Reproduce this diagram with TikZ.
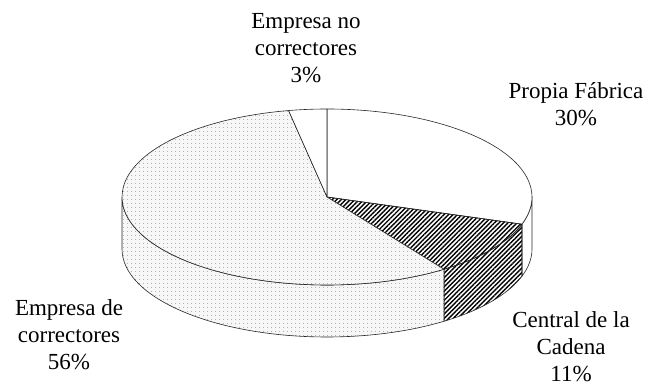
\documentclass[tikz,border=0pt]{standalone}
\usepackage{fontspec}
\setmainfont{Liberation Serif}
\usetikzlibrary{calc,patterns.meta}
\tikzset{
  basic/.style   = {draw=black!85, line width=0.6pt, line join=round},
  plain/.style   = {basic, fill=white},
  hatch/.style   = {basic, fill=white, pattern color=black,
                    pattern={Lines[angle=45,distance=3.2pt,line width=1.4pt]}},
  stipple/.style = {basic, preaction={fill=gray!6}, pattern color=gray!80,
                    pattern={Dots[distance=4pt,radius=0.6pt]}},
  tag/.style     = {font=\fontsize{23}{27}\selectfont, align=center}
}

\begin{document}
\begin{tikzpicture}[x=1pt, y=1pt]

\useasboundingbox (0,0) rectangle (651,387);
%\draw[help lines, color=gray!30, dashed] (0,0) grid[step=50] (651,387);

\coordinate (Centre) at (327,190);

% side of the disc
\foreach \a/\b/\s in {0/-18/plain, -18/-55.2/hatch, -55.2/-180/stipple}{
    \draw[\s] ($(Centre)+(\a:205 and 88)$)
        arc[start angle=\a, end angle=\b, x radius=205, y radius=88]
        -- ++(0,-52)
        arc[start angle=\b, end angle=\a, x radius=205, y radius=88] -- cycle;
    }

% top of the disc
\foreach \a/\b/\s in {90/-18/plain, -18/-55.2/hatch, -55.2/-259.2/stipple, 100.8/90/plain}{
    \draw[\s] (Centre) -- ($(Centre)+(\a:205 and 88)$)
        arc[start angle=\a, end angle=\b, x radius=205, y radius=88] -- cycle;
    }

\node[tag] (NoCorrectores) at (306,339) {Empresa no\\correctores\\3\%};
\node[tag] (Propia) at (576,283) {Propia Fábrica\\30\%};
\node[tag] (Correctores) at (69,52) {Empresa de\\correctores\\56\%};
\node[tag] (Central) at (571,40) {Central de la\\Cadena\\11\%};

\end{tikzpicture}
\end{document}
